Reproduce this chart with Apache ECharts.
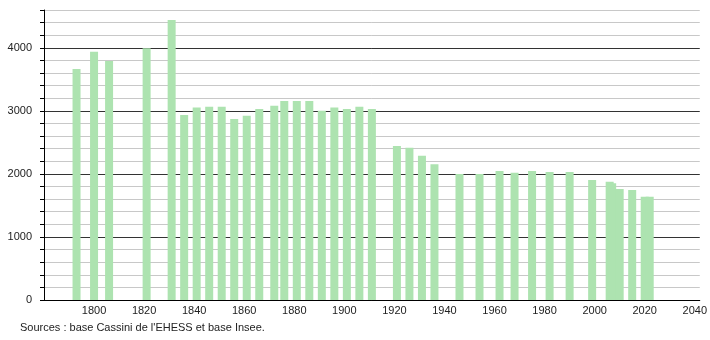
<!DOCTYPE html>
<html>
<head>
<meta charset="utf-8">
<script src="https://cdn.jsdelivr.net/npm/echarts@6/dist/echarts.min.js"></script>
<style>
html,body{margin:0;padding:0;background:#fff;}
#c{width:710px;height:340px;}
</style>
</head>
<body>
<div id="c"></div>
<script>
const years = [1793,1800,1806,1821,1831,1836,1841,1846,1851,1856,1861,1866,1872,1876,1881,1886,1891,1896,1901,1906,1911,1921,1926,1931,1936,1946,1954,1962,1968,1975,1982,1990,1999,2006,2007,2010,2015,2020,2022];
const population = [3664,3939,3791,3992,4442,2935,3052,3067,3067,2871,2924,3030,3083,3157,3157,3157,3000,3052,3030,3067,3030,2443,2416,2290,2152,2000,2000,2046,2020,2046,2030,2030,1904,1877,1850,1761,1745,1639,1639];
const xTickLabels = [1800,1820,1840,1860,1880,1900,1920,1940,1960,1980,2000,2020,2040];
const yTickLabels = [0,1000,2000,3000,4000];
const sourceText = "Sources : base Cassini de l'EHESS et base Insee.";

const chart = echarts.init(document.getElementById('c'), null, {renderer:'canvas'});
const font = 'Liberation Sans';
const gridColors = ['#333333','#c8c8c8','#c8c8c8','#c8c8c8','#c8c8c8'];

chart.setOption({
  animation:false,
  backgroundColor:'#ffffff',
  textStyle:{fontFamily:font},
  grid:{left:44, right:10, top:10, bottom:40},
  xAxis:{
    type:'value', min:1780, max:2042, interval:20,
    axisLine:{show:true, lineStyle:{color:'#000', width:1}},
    axisTick:{show:false},
    splitLine:{show:false},
    axisLabel:{
      fontFamily:font, fontSize:11, color:'#222', margin:5,
      showMaxLabel:false,
      formatter:function(v){ return xTickLabels.indexOf(v) >= 0 ? String(v) : ''; }
    }
  },
  yAxis:{
    type:'value', min:0, max:4600, interval:200,
    axisLine:{show:true, lineStyle:{color:'#000', width:1}},
    axisTick:{show:true, length:4, lineStyle:{color:'#000'}},
    splitLine:{show:true, lineStyle:{color:gridColors, width:1}},
    axisLabel:{
      fontFamily:font, fontSize:11, color:'#222', margin:12,
      formatter:function(v){ return yTickLabels.indexOf(v) >= 0 ? String(v) : ''; }
    }
  },
  graphic:[{
    type:'text', left:20, top:322,
    style:{text:sourceText, fontFamily:font, fontSize:11, fill:'#222'}
  }],
  series:[{
    type:'bar',
    barWidth:8,
    itemStyle:{color:'#ade3b0'},
    data: years.map(function(y,i){ return [y, population[i]]; })
  }]
});
</script>
</body>
</html>
